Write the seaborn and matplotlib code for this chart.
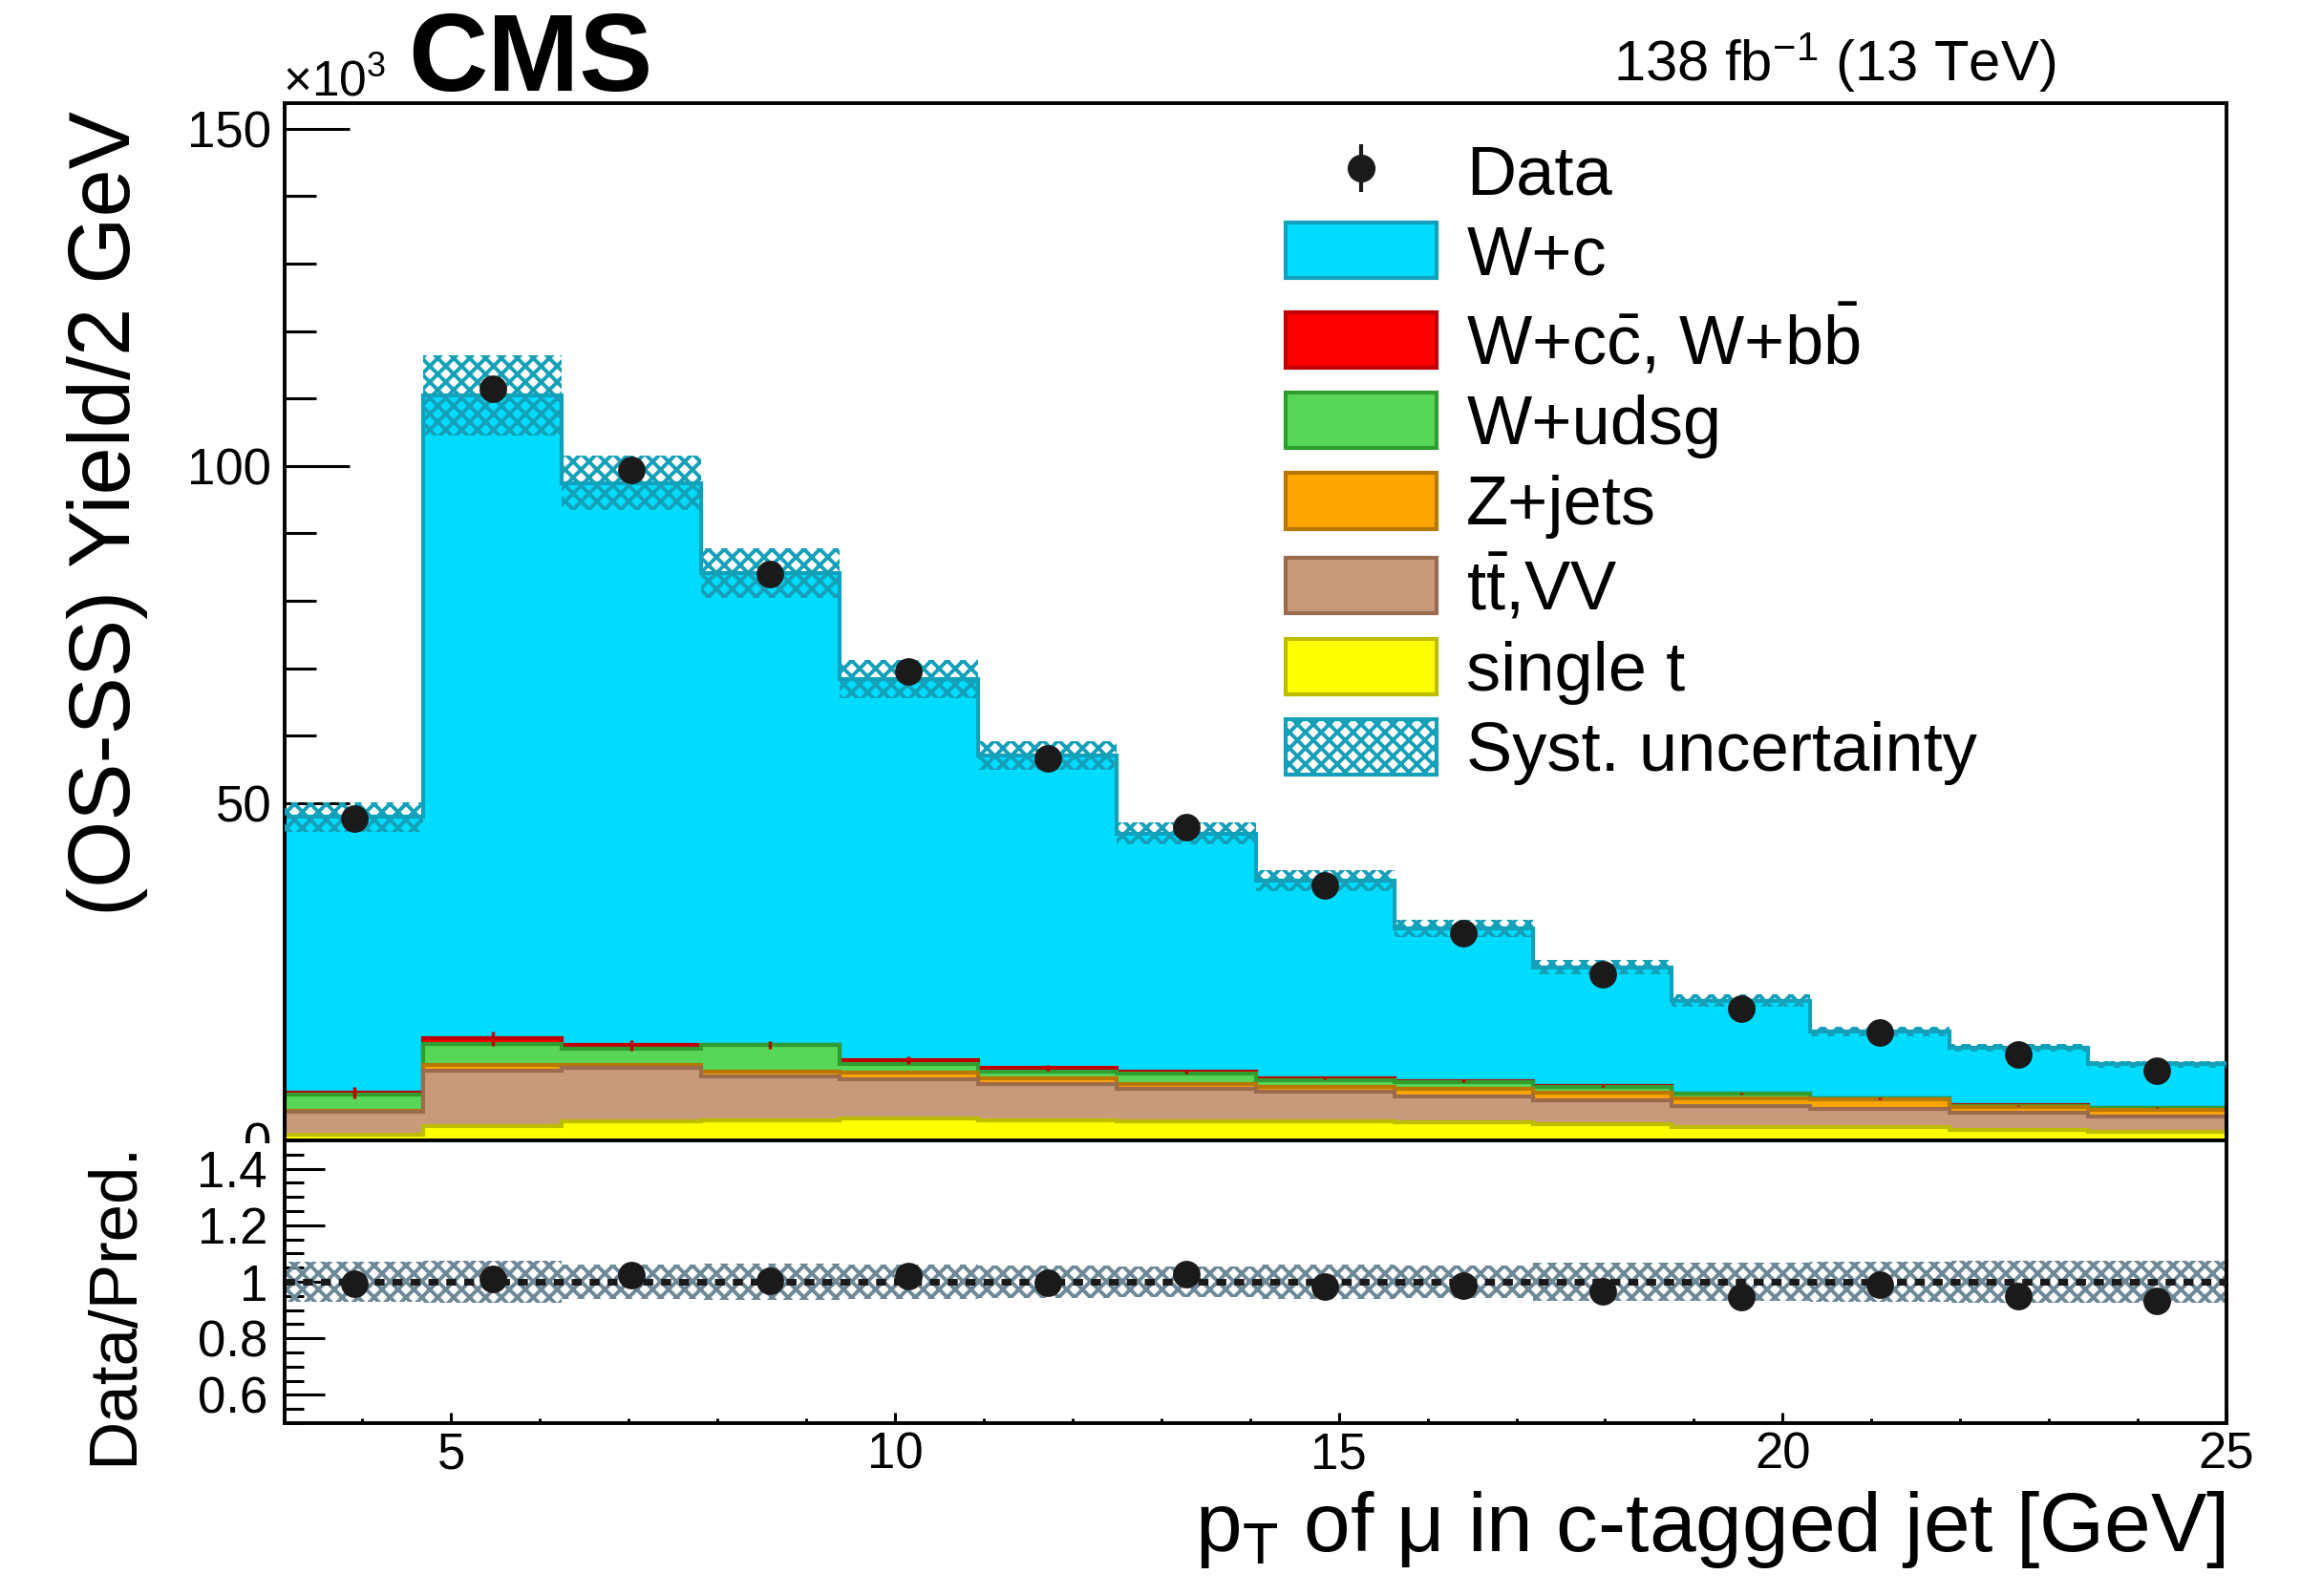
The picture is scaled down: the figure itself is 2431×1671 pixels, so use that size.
import numpy as np
import matplotlib
matplotlib.use("Agg")
import matplotlib.pyplot as plt
import seaborn as sns
from matplotlib.patches import Patch
from matplotlib.lines import Line2D
from matplotlib.legend_handler import HandlerTuple
from matplotlib.ticker import MultipleLocator, FixedLocator

# ---------------- data (yields in units of 10^3) ----------------
bin_edges = [3.125, 4.6875, 6.25, 7.8125, 9.375, 10.9375, 12.5, 14.0625,
             15.625, 17.1875, 18.75, 20.3125, 21.875, 23.4375, 25.0]

single_t = [0.85, 2.1, 2.8, 3.0, 3.2, 3.0, 2.9, 2.9, 2.65, 2.4, 2.0, 1.95, 1.5, 1.25]
ttbar_vv = [3.45, 8.2, 7.9, 6.5, 5.8, 5.3, 4.7, 4.3, 3.85, 3.55, 3.1, 2.75, 2.6, 2.35]
z_jets   = [0.15, 0.85, 0.55, 0.7, 1.05, 0.95, 0.7, 0.8, 1.1, 1.15, 1.1, 1.35, 0.9, 0.9]
w_udsg   = [2.3, 3.15, 2.35, 3.9, 1.35, 0.95, 1.65, 0.9, 1.1, 0.9, 0.7, 0.15, 0.15, 0.3]
w_ccbb   = [0.35, 0.8, 0.5, 0.05, 0.45, 0.55, 0.25, 0.35, 0.1, 0.05, 0.05, 0.05, 0.05, 0.05]
w_c      = [40.9, 95.4, 83.4, 69.95, 56.55, 46.3, 35.3, 29.25, 22.6, 17.65, 13.75, 9.95, 8.5, 6.45]
w_ccbb_stat = [0.8, 1.1, 0.8, 0.55, 0.55, 0.45, 0.35, 0.25, 0.2, 0.15, 0.1, 0.1, 0.1, 0.1]

data     = [47.7, 111.5, 99.4, 84.0, 69.5, 56.6, 46.4, 37.8, 30.8, 24.6, 19.5, 16.0, 12.8, 10.4]
data_err = [0.3, 0.45, 0.4, 0.4, 0.35, 0.3, 0.3, 0.25, 0.25, 0.2, 0.2, 0.2, 0.2, 0.15]
syst     = [2.2, 5.95, 4.1, 3.65, 2.85, 2.15, 1.65, 1.6, 1.3, 1.05, 0.9, 0.7, 0.6, 0.5]

ratio      = [0.993, 1.011, 1.024, 1.002, 1.021, 0.998, 1.027, 0.983, 0.985, 0.967,
              0.947, 0.991, 0.948, 0.934]
ratio_band = [0.07, 0.075, 0.06, 0.064, 0.06, 0.057, 0.054, 0.061, 0.058, 0.066,
              0.066, 0.072, 0.074, 0.076]

labels = ["single t", "t$\\bar{\\mathrm{t}}$,VV", "Z+jets", "W+udsg",
          "W+c$\\bar{\\mathrm{c}}$, W+b$\\bar{\\mathrm{b}}$", "W+c"]
fills = ["#ffff00", "#c89a7c", "#ffa500", "#58d658", "#ff0000", "#00dcff"]
edges_c = ["#bdbd00", "#9b6b4d", "#b87800", "#2f9e2f", "#c00000", "#10a2bc"]
band_color = "#14a0b8"
ratio_band_color = "#6d8896"

# ---------------- style ----------------
sns.set_theme(style="ticks", rc={
    "axes.edgecolor": "black", "text.color": "black", "xtick.color": "black",
    "ytick.color": "black", "axes.labelcolor": "black"})
plt.rcParams["font.family"] = ["Liberation Sans", "DejaVu Sans"]
plt.rcParams["mathtext.fontset"] = "custom"
plt.rcParams["mathtext.rm"] = "Liberation Sans"
plt.rcParams["mathtext.it"] = "Liberation Sans:italic"
plt.rcParams["mathtext.bf"] = "Liberation Sans:bold"
plt.rcParams["hatch.linewidth"] = 2.8

W, H, DPI = 2431, 1671, 100
fig = plt.figure(figsize=(W / DPI, H / DPI), dpi=DPI)


def fx(px):
    return px / W


def fy(py):
    return 1 - py / H


L, R = 298, 2331
T, M, B = 108, 1194, 1490

ax = fig.add_axes([fx(L), fy(M), fx(R) - fx(L), fy(T) - fy(M)])
cover = fig.add_axes([0, 0, 1, fy(M + 3)])
axr = fig.add_axes([fx(L), fy(B), fx(R) - fx(L), fy(M) - fy(B)])
ax.set_zorder(0)
cover.set_zorder(1)
axr.set_zorder(2)
cover.set_xticks([])
cover.set_yticks([])
for s in cover.spines.values():
    s.set_visible(False)
cover.patch.set_facecolor("white")

edges = np.array(bin_edges)
centers = 0.5 * (edges[:-1] + edges[1:])
stack = np.cumsum(np.array([single_t, ttbar_vv, z_jets, w_udsg, w_ccbb, w_c]), axis=0)

# stacked histograms drawn from the total downwards (ROOT THStack style)
for i in reversed(range(stack.shape[0])):
    ax.stairs(stack[i], edges, baseline=0, fill=True, facecolor=fills[i],
              edgecolor=edges_c[i], linewidth=3, zorder=1 + 0.01 * (6 - i))

ax.errorbar(centers, stack[4], yerr=w_ccbb_stat, fmt="none", ecolor="#c00000",
            elinewidth=2.5, zorder=2)

total = stack[-1]
syst_a = np.array(syst)
ax.stairs(total + syst_a, edges, baseline=total - syst_a, fill=True, facecolor="none",
          edgecolor=band_color, hatch="xx", linewidth=0, zorder=3)

ax.errorbar(centers, data, yerr=data_err, fmt="none", ecolor="k", elinewidth=3, zorder=4)
sns.scatterplot(x=centers, y=data, color="k", s=430, linewidth=0, ax=ax, zorder=5,
                legend=False)

# ratio panel
rb = np.array(ratio_band)
axr.stairs(1 + rb, edges, baseline=1 - rb, fill=True, facecolor="none",
           edgecolor=ratio_band_color, hatch="xx", linewidth=0, zorder=2)
axr.axhline(1.0, color="k", lw=5, ls=(0, (1.5, 1.2)), zorder=3)
sns.scatterplot(x=centers, y=ratio, color="k", s=430, linewidth=0, ax=axr, zorder=5,
                legend=False)

# axes formatting
for a in (ax, axr):
    a.set_xlim(bin_edges[0], bin_edges[-1])
    a.set_xlabel("")
    a.set_ylabel("")
    a.xaxis.set_major_locator(MultipleLocator(5))
    a.xaxis.set_minor_locator(MultipleLocator(1))
    a.tick_params(which="both", direction="in", top=False, right=False, width=2.2)
    for s in a.spines.values():
        s.set_linewidth(2.8)
        s.set_color("black")
    a.grid(False)

ax.set_ylim(0, 153.8)
ax.yaxis.set_major_locator(MultipleLocator(50))
ax.yaxis.set_minor_locator(MultipleLocator(10))
ax.tick_params(axis="y", which="major", length=49, labelsize=38, pad=10)
ax.tick_params(axis="y", which="minor", length=24)
ax.tick_params(axis="x", which="major", length=20, labelbottom=False)
ax.tick_params(axis="x", which="minor", length=9.5)

axr.set_ylim(0.5, 1.5)
axr.yaxis.set_major_locator(FixedLocator([0.6, 0.8, 1.0, 1.2, 1.4]))
axr.yaxis.set_minor_locator(MultipleLocator(0.05))
axr.set_yticklabels(["0.6", "0.8", "1", "1.2", "1.4"])
axr.tick_params(axis="y", which="major", length=30, labelsize=38, pad=13)
axr.tick_params(axis="y", which="minor", length=14.5)
axr.tick_params(axis="x", which="major", length=8, labelsize=38, pad=6)
axr.tick_params(axis="x", which="minor", length=3.5)

# legend
handles = [
    (Line2D([], [], color="k", marker="|", markersize=36, mew=3, ls="none"),
     Line2D([], [], color="k", marker="o", markersize=20, ls="none")),
]
leg_labels = ["Data"]
for i in reversed(range(len(labels))):
    handles.append(Patch(facecolor=fills[i], edgecolor=edges_c[i], lw=3))
    leg_labels.append(labels[i])
handles.append(Patch(facecolor="white", edgecolor=band_color, hatch="xx", lw=3))
leg_labels.append("Syst. uncertainty")

ax.legend(handles, leg_labels, loc="upper left", bbox_to_anchor=(fx(1346), fy(149)),
          bbox_transform=fig.transFigure, frameon=False, fontsize=52,
          handlelength=2.19, handleheight=0.86, handletextpad=0.43,
          labelspacing=0.21, borderpad=0, borderaxespad=0,
          handler_map={tuple: HandlerTuple(ndivide=1, pad=0)})

# texts
fig.text(fx(427), fy(95), "CMS", fontsize=83, fontweight="bold", ha="left", va="baseline")
fig.text(fx(296), fy(100), "×10$^{3}$", fontsize=37, ha="left", va="baseline")
fig.text(fx(2152), fy(85), "138 fb$^{-1}$ (13 TeV)", fontsize=43, ha="right", va="baseline")
fig.text(fx(2330), fy(1624), "p$_{\\mathrm{T}}$ of μ in c-tagged jet [GeV]", fontsize=63,
         ha="right", va="baseline")
fig.text(fx(136), fy(116), "(OS-SS) Yield/2 GeV", fontsize=65, rotation=90,
         rotation_mode="anchor", ha="right", va="baseline")
fig.text(fx(138), fy(1195), "Data/Pred.", fontsize=51, rotation=90,
         rotation_mode="anchor", ha="right", va="baseline")

fig.savefig("out.png", dpi=DPI)
